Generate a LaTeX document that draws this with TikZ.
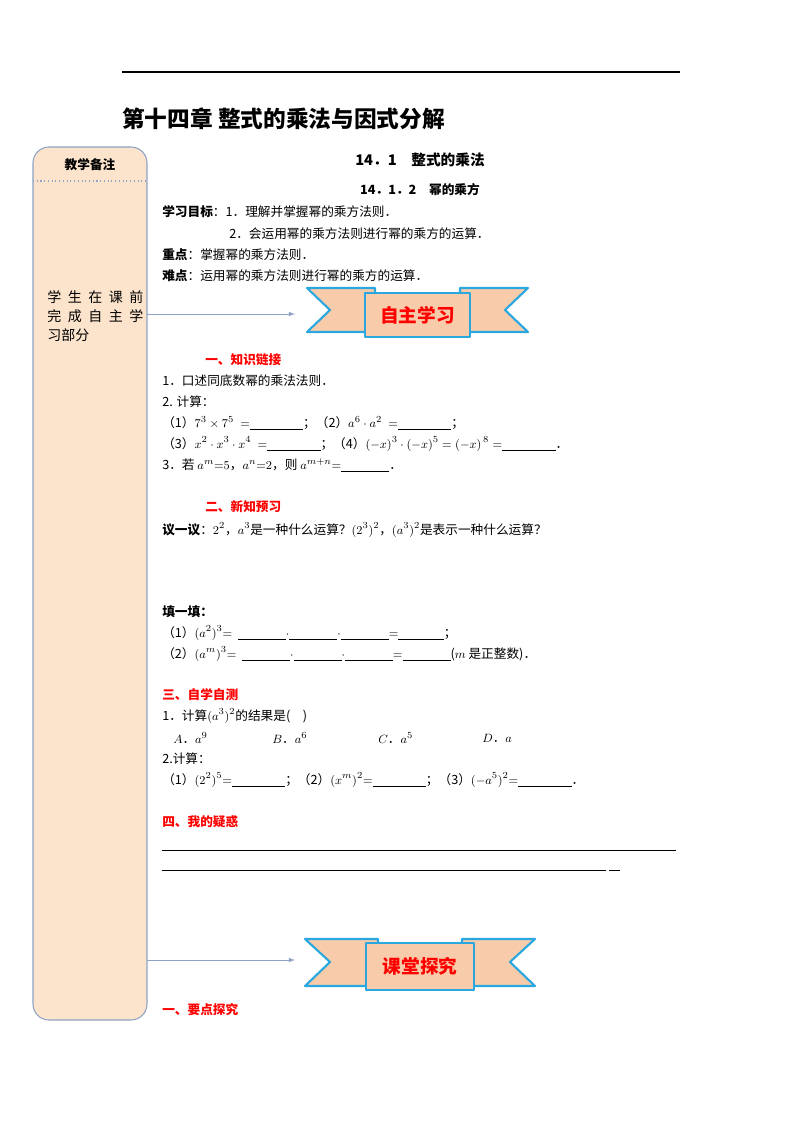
\documentclass[tikz,border=0pt]{standalone}
\usepackage{fontspec}
\setmainfont{Noto Sans CJK SC}
\definecolor{bann}{HTML}{F8CCAA}
\definecolor{bblue}{HTML}{2AA7DF}
\definecolor{side}{HTML}{FBE3CC}
\definecolor{sideb}{HTML}{8EA3C6}
\tikzset{t/.style={anchor=west,inner sep=0pt,font=\fontsize{9.5}{11}\selectfont},
 red/.style={t,text=red,font=\fontsize{9.5}{11}\selectfont\bfseries},
 ban/.style={fill=bann,draw=bblue,line width=1.6pt,line join=round},
 sl/.style={anchor=west,inner sep=0pt,font=\fontsize{10.5}{12}\selectfont},
 arr/.style={-latex,draw=sideb,line width=0.6pt}}
\begin{document}
\begin{tikzpicture}[x=0.75pt,y=-0.75pt]
\useasboundingbox (0,0) rectangle (800,1132);
\draw[line width=0.8pt] (122,72) -- (680,72);
\node[t,font=\fontsize{17}{19}\selectfont\bfseries] (title) at (122,119) {第十四章\ 整式的乘法与因式分解};
% sidebar
\draw[fill=side,draw=sideb,line width=0.8pt,rounded corners=12pt] (33,147) rectangle (147,1020);
\node[font=\fontsize{9.5}{11}\selectfont\bfseries] (sh) at (90,165) {教学备注};
\draw[dotted,draw=sideb,line width=0.8pt] (33,181) -- (147,181);
\node[sl] (sn1) at (47,297) {\makebox[72pt][s]{学\hfill 生\hfill 在\hfill 课\hfill 前}};
\node[sl] (sn2) at (47,316) {\makebox[72pt][s]{完\hfill 成\hfill 自\hfill 主\hfill 学}};
\node[sl] (sn3) at (47,335) {习部分};
\coordinate (a1s) at (147,314); \coordinate (a1e) at (295,314);
\coordinate (a2s) at (147,960); \coordinate (a2e) at (295,960);
\draw[arr] (a1s) -- (a1e);
\draw[arr] (a2s) -- (a2e);
% headings
\node[font=\fontsize{11}{13}\selectfont\bfseries] (h1) at (420,160) {14．1\quad 整式的乘法};
\node[font=\fontsize{9.5}{11}\selectfont\bfseries] (h2) at (420,190) {14．1．2\quad 幂的乘方};
\node[t] (g1) at (162,212) {\textbf{学习目标}：1．理解并掌握幂的乘方法则．};
\node[t] (g2) at (229,234) {2．会运用幂的乘方法则进行幂的乘方的运算．};
\node[t] (g3) at (162,255) {\textbf{重点}：掌握幂的乘方法则．};
\node[t] (g4) at (162,276) {\textbf{难点}：运用幂的乘方法则进行幂的乘方的运算．};
% banner 1
\draw[ban] (307,288) -- (375,288) -- (375,332) -- (307,332) -- (330,310) -- cycle;
\draw[ban] (528,288) -- (460,288) -- (460,332) -- (528,332) -- (505,310) -- cycle;
\draw[ban] (365,293) rectangle (470,337);
\node[text=red,font=\fontsize{14}{16}\selectfont\bfseries] (b1) at (417.5,315) {自主学习};
% section 1
\node[red] (s1) at (205,360) {一、知识链接};
\node[t] (l1) at (162,381) {1．口述同底数幂的乘法法则．};
\node[t] (l2) at (162,402) {2. 计算：};
\node[t] (l3) at (162,423) {（1）$7^3\times7^5\ =$\underline{\hspace{40pt}}；（2）$a^6\cdot a^2\ =$\underline{\hspace{40pt}}；};
\node[t] (l4) at (162,444) {（3）$x^2\cdot x^3\cdot x^4\ =$\underline{\hspace{40pt}}；（4）$(-x)^3\cdot(-x)^5=(-x)^{\,8}=$\underline{\hspace{40pt}}．};
\node[t] (l5) at (162,465) {3．若 $a^m{=}5$，$a^n{=}2$，则 $a^{m+n}{=}$\underline{\hspace{36pt}}．};
% section 2
\node[red] (s2) at (205,507) {二、新知预习};
\node[t] (y1) at (162,530) {\textbf{议一议}：$2^2$，$a^3$是一种什么运算？$(2^3)^2$，$(a^3)^2$是表示一种什么运算？};
\node[t] (f0) at (162,612) {\textbf{填一填：}};
\node[t] (f1) at (162,633) {（1）$(a^2)^3{=}$\ \ \underline{\hspace{36pt}}$\cdot$\underline{\hspace{36pt}}$\cdot$\underline{\hspace{36pt}}$=$\underline{\hspace{34pt}}；};
\node[t] (f2) at (162,654) {（2）$(a^m)^3{=}$\ \ \underline{\hspace{36pt}}$\cdot$\underline{\hspace{36pt}}$\cdot$\underline{\hspace{36pt}}$=$\underline{\hspace{36pt}}($m$ 是正整数)．};
% section 3
\node[red] (s3) at (162,695) {三、自学自测};
\node[t] (c1) at (162,716) {1．计算$(a^3)^2$的结果是(\quad)};
\node[t] (c2) at (173,738) {$A$．$a^9$};
\node[t] (c3) at (272,738) {$B$．$a^6$};
\node[t] (c4) at (378,738) {$C$．$a^5$};
\node[t] (c5) at (482,738) {$D$．$a$};
\node[t] (c6) at (162,759) {2.计算：};
\node[t] (c7) at (162,780) {（1）$(2^2)^5{=}$\underline{\hspace{40pt}}；（2）$(x^m)^2{=}$\underline{\hspace{40pt}}；（3）$(-a^5)^2{=}$\underline{\hspace{40pt}}．};
% section 4
\node[red] (s4) at (162,822) {四、我的疑惑};
\coordinate (q1a) at (162,850); \coordinate (q1b) at (676,850);
\coordinate (q2a) at (162,870); \coordinate (q2b) at (606,870);
\coordinate (q3a) at (609,870); \coordinate (q3b) at (620,870);
\draw[line width=0.5pt] (q1a) -- (q1b);
\draw[line width=0.5pt] (q2a) -- (q2b);
\draw[line width=0.5pt] (q3a) -- (q3b);
% banner 2
\draw[ban] (305,939) -- (378,939) -- (378,986) -- (305,986) -- (330,962) -- cycle;
\draw[ban] (535,939) -- (462,939) -- (462,986) -- (535,986) -- (510,962) -- cycle;
\draw[ban] (366,943) rectangle (474,990);
\node[text=red,font=\fontsize{14}{16}\selectfont\bfseries] (b2) at (420,966) {课堂探究};
\node[red] (s5) at (162,1010) {一、要点探究};
\end{tikzpicture}
\end{document}
